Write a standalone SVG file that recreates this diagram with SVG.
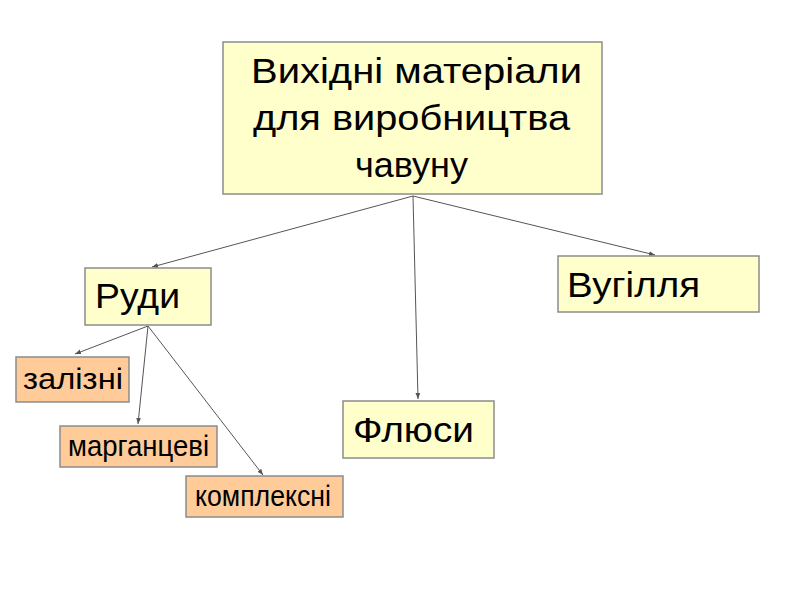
<svg xmlns="http://www.w3.org/2000/svg" width="800" height="600" viewBox="0 0 800 600">
<defs>
<marker id="arr" viewBox="0 0 10 10" refX="10" refY="5" markerWidth="6" markerHeight="6" orient="auto" markerUnits="userSpaceOnUse">
<path d="M0,1 L10,5 L0,9 z" fill="#555"/>
</marker>
</defs>
<style>
.y{fill:#FFFFCC;stroke:#8c8c8c;stroke-width:1.5}
.o{fill:#FFCC99;stroke:#8c8c8c;stroke-width:1.5}
text{font-family:"Liberation Sans",Arial,sans-serif;fill:#000}
.big{font-size:35px}
.sm{font-size:29px}
.c line{stroke:#555;stroke-width:1;marker-end:url(#arr)}
</style>
<rect width="800" height="600" fill="#fff"/>
<g class="c" id="connectors">
<line x1="413" y1="196" x2="152" y2="267"/>
<line x1="413" y1="196" x2="418" y2="399"/>
<line x1="413" y1="196" x2="655" y2="255"/>
<line x1="148" y1="326" x2="75" y2="354"/>
<line x1="148" y1="326" x2="138" y2="424"/>
<line x1="148" y1="326" x2="263" y2="475"/>
</g>
<g id="main">
<rect class="y" x="223" y="42" width="379" height="152"/>
<text class="big" x="251" y="83" textLength="331" lengthAdjust="spacingAndGlyphs">Вихідні матеріали</text>
<text class="big" x="253" y="130" textLength="317" lengthAdjust="spacingAndGlyphs">для виробництва</text>
<text class="big" x="355" y="177" textLength="113" lengthAdjust="spacingAndGlyphs">чавуну</text>
</g>
<g id="rudy">
<rect class="y" x="85" y="268" width="126" height="57"/>
<text class="big" x="95" y="308" textLength="85" lengthAdjust="spacingAndGlyphs">Руди</text>
</g>
<g id="vuhillia">
<rect class="y" x="558" y="256" width="201" height="56"/>
<text class="big" x="567" y="297" textLength="133" lengthAdjust="spacingAndGlyphs">Вугілля</text>
</g>
<g id="flyusy">
<rect class="y" x="343" y="401" width="151" height="57"/>
<text class="big" x="353" y="442" textLength="121" lengthAdjust="spacingAndGlyphs">Флюси</text>
</g>
<g id="zalizni">
<rect class="o" x="16" y="357" width="113" height="45"/>
<text class="sm" x="23" y="389" textLength="100" lengthAdjust="spacingAndGlyphs">залізні</text>
</g>
<g id="marhantsevi">
<rect class="o" x="60" y="426" width="157" height="41"/>
<text class="sm" x="68" y="456" textLength="141" lengthAdjust="spacingAndGlyphs">марганцеві</text>
</g>
<g id="kompleksni">
<rect class="o" x="186" y="476" width="157" height="41"/>
<text class="sm" x="195" y="506" textLength="136" lengthAdjust="spacingAndGlyphs">комплексні</text>
</g>
</svg>
